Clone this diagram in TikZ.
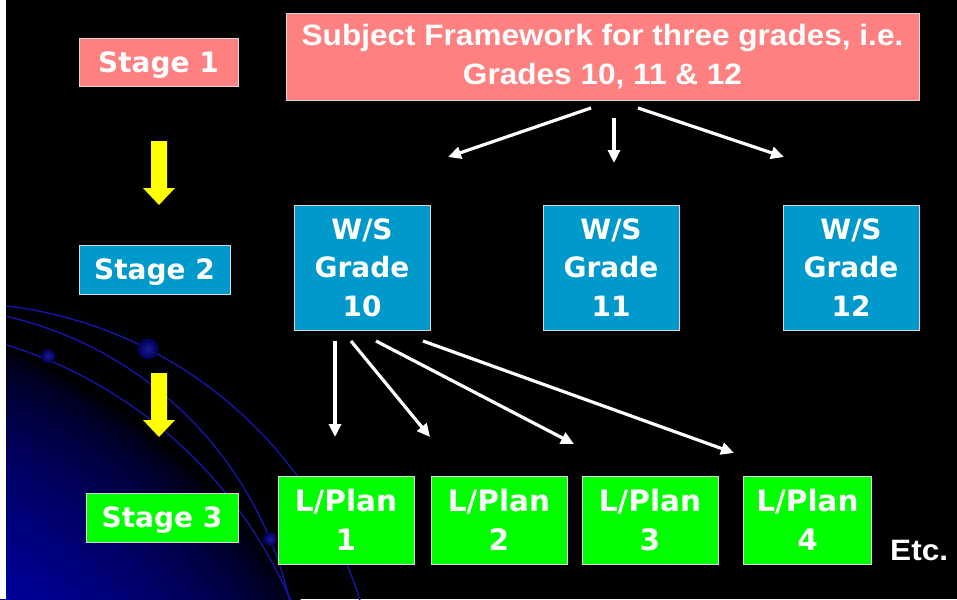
\documentclass[tikz,border=0pt]{standalone}
\usepackage{fontspec}
\setmainfont{DejaVu Sans}
\newfontfamily\arialf[FakeStretch=1.07]{Liberation Sans}
\usetikzlibrary{arrows.meta}
\definecolor{pinkbox}{RGB}{255,128,128}
\definecolor{bluebox}{RGB}{0,153,204}
\definecolor{greenbox}{RGB}{0,255,0}
\definecolor{boxline}{RGB}{215,215,215}
\definecolor{orbit}{RGB}{20,20,165}
\definecolor{glowB}{RGB}{0,0,160}
\definecolor{ballin}{RGB}{25,25,150}
\definecolor{ballout}{RGB}{0,0,85}
\definecolor{arrowyellow}{RGB}{255,255,0}
\tikzset{
  box/.style={draw=boxline, line width=0.8pt, inner sep=0pt, text=white, align=center},
  stagefont/.style={font=\bfseries\fontsize{28}{38.5}\selectfont},
  stagebox/.style={box, stagefont, text height=20.4pt, text depth=0pt},
  planfont/.style={font=\bfseries\fontsize{29.5}{39}\selectfont},
  arialfont/.style={font=\arialf\bfseries\fontsize{29.5}{39}\selectfont},
  warrow/.style={draw=white, line width=3.2pt, -{Triangle[length=13pt,width=12pt]}},
  orbitline/.style={draw=orbit, line width=1.4pt},
  orbball/.style={inner color=ballin, outer color=ballout},
}
\begin{document}
\begin{tikzpicture}[x=1pt, y=-1pt]
\useasboundingbox (0,0) rectangle (957,599);
\fill[black] (0,0) rectangle (957,599);
\begin{scope}
  \clip (0,0) rectangle (957,599);
  \foreach \i in {0,...,58} {
    \pgfmathsetmacro\rr{650-4*\i}
    \pgfmathsetmacro\pp{min(100,100*((650-\rr)/230)^0.6)}
    \fill[glowB!\pp!black] (-252,942) circle (\rr);
  }
  \draw[orbitline] (-44,726) circle (423);
  \draw[orbitline] (-77.5,683) circle (376);
  \draw[orbitline] (-127,779) circle (454);
  \shade[orbball] (148,349) circle (10.5);
  \shade[orbball] (48,356) circle (7);
  \shade[orbball] (270,539) circle (7);
\end{scope}
\fill[white] (0,0) rectangle (6,599);

% yellow block arrows
\fill[arrowyellow] (151,141) -- (167,141) -- (167,188) -- (175,188) -- (159,205) -- (143,188) -- (151,188) -- cycle;
\fill[arrowyellow] (151,373) -- (167,373) -- (167,420) -- (175,420) -- (159,437) -- (143,420) -- (151,420) -- cycle;

% stage labels
\node[stagebox, fill=pinkbox, minimum width=159pt, minimum height=48pt] (stage1) at (158.5,62) {Stage 1};
\node[stagebox, fill=bluebox, minimum width=151pt, minimum height=49pt] (stage2) at (154.5,269.5) {Stage 2};
\node[stagebox, fill=greenbox, minimum width=152pt, minimum height=49pt] (stage3) at (162,517.5) {Stage 3};

% framework
\node[box, arialfont, fill=pinkbox, minimum width=633pt, minimum height=87pt] (fw) at (602.5,56.5) {Subject Framework for three grades, i.e.\\Grades 10, 11 \& 12};

% work schedules
\node[box, stagefont, fill=bluebox, minimum width=136pt, minimum height=125pt] (ws10) at (362,267.5) {W/S\\Grade\\10};
\node[box, stagefont, fill=bluebox, minimum width=136pt, minimum height=125pt] (ws11) at (611,267.5) {W/S\\Grade\\11};
\node[box, stagefont, fill=bluebox, minimum width=136pt, minimum height=125pt] (ws12) at (851,267.5) {W/S\\Grade\\12};

% lesson plans
\node[box, planfont, fill=greenbox, minimum width=136pt, minimum height=88pt] (lp1) at (346,520) {L/Plan\\1};
\node[box, planfont, fill=greenbox, minimum width=136pt, minimum height=88pt] (lp2) at (499,520) {L/Plan\\2};
\node[box, planfont, fill=greenbox, minimum width=136pt, minimum height=88pt] (lp3) at (650,520) {L/Plan\\3};
\node[box, planfont, fill=greenbox, minimum width=128pt, minimum height=88pt] (lp4) at (807.5,520) {L/Plan\\4};

\node[font=\arialf\bfseries\fontsize{29.5}{36}\selectfont, text=white, anchor=base west, inner sep=0pt] (etc) at (890,560) {Etc.};

% arrow end points
\coordinate (a1s) at (591,108); \coordinate (a1e) at (448,157);
\coordinate (a2s) at (614,118); \coordinate (a2e) at (614,163);
\coordinate (a3s) at (638,108); \coordinate (a3e) at (784,157);
\coordinate (b1s) at (335,341); \coordinate (b1e) at (335,437);
\coordinate (b2s) at (351,341); \coordinate (b2e) at (430,437);
\coordinate (b3s) at (376,341); \coordinate (b3e) at (574,444);
\coordinate (b4s) at (423,341); \coordinate (b4e) at (734,453);

\draw[warrow] (a1s) -- (a1e);
\draw[warrow] (a2s) -- (a2e);
\draw[warrow] (a3s) -- (a3e);
\draw[warrow] (b1s) -- (b1e);
\draw[warrow] (b2s) -- (b2e);
\draw[warrow] (b3s) -- (b3e);
\draw[warrow] (b4s) -- (b4e);
\end{tikzpicture}
\end{document}
